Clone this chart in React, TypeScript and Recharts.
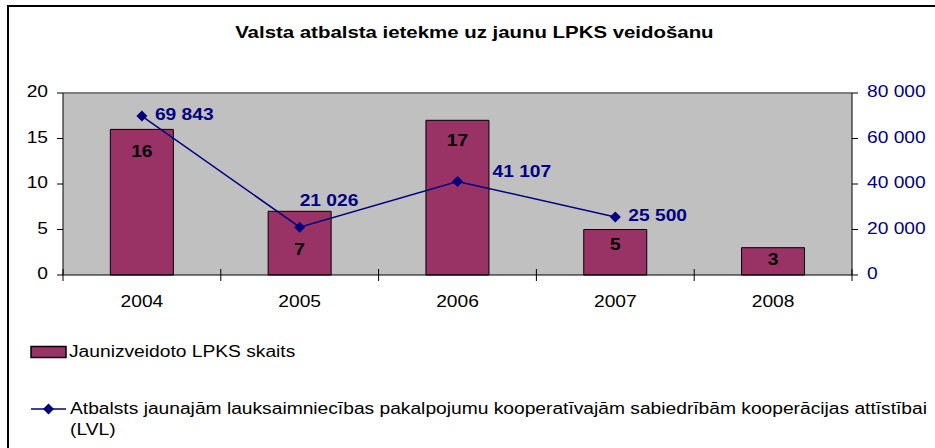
import React from "react";
import {
  ComposedChart,
  Bar,
  Line,
  XAxis,
  YAxis,
  CartesianGrid,
  ReferenceLine,
  LabelList,
} from "recharts";

const years = ["2004", "2005", "2006", "2007", "2008"];
const newCoops = [16, 7, 17, 5, 3];
const support: (number | null)[] = [69843, 21026, 41107, 25500, null];
const countTicks = [0, 5, 10, 15, 20];
const supportTicks = [0, 20000, 40000, 60000, 80000];

const chartTitle = "Valsta atbalsta ietekme uz jaunu LPKS veidošanu";
const barName = "Jaunizveidoto LPKS skaits";
const lineName =
  "Atbalsts jaunajām lauksaimniecības pakalpojumu kooperatīvajām sabiedrībām kooperācijas attīstībai (LVL)";

// label nudges, as placed in the original
const barLabelDy = [23, 39, 21, 16, 13];
const lineLabelDx = [13, 0, 35, 13, 0];
const lineLabelDy = [0, -25, -9, 0, 0];

const data = years.map((year, i) => ({
  year,
  count: newCoops[i],
  support: support[i],
}));

const FONT = "'Liberation Sans', Arial, sans-serif";
const NAVY = "#000080";
const PLUM = "#993366";
const WIDE = 1.2; // the original text is drawn a bit stretched

const fmt = (v: number) => String(v).replace(/\B(?=(\d{3})+(?!\d))/g, " ");

const WideText = ({ x, y, anchor = "middle", children, ...rest }: any) => (
  <text
    transform={`translate(${x},${y}) scale(${WIDE},1)`}
    textAnchor={anchor}
    dominantBaseline="middle"
    fontSize={16}
    fontFamily={FONT}
    {...rest}
  >
    {children}
  </text>
);

const YearTick = (props: any) => {
  const { x, y, payload, width, index } = props;
  const half = width / years.length / 2;
  return (
    <g>
      <line x1={x - half} y1={y - 6} x2={x - half} y2={y + 6} stroke="#000" />
      {index === years.length - 1 && (
        <line x1={x + half} y1={y - 6} x2={x + half} y2={y + 6} stroke="#000" />
      )}
      <WideText x={x} y={y + 28} fill="#000">
        {payload.value}
      </WideText>
    </g>
  );
};

const LeftTick = (props: any) => {
  const { x, y, payload } = props;
  return (
    <WideText x={x} y={y} anchor="end" fill="#000">
      {payload.value}
    </WideText>
  );
};

const RightTick = (props: any) => {
  const { x, y, payload } = props;
  return (
    <WideText x={x} y={y} anchor="start" fill={NAVY}>
      {fmt(payload.value)}
    </WideText>
  );
};

const BarValue = (props: any) => {
  const { x, y, width, value, index } = props;
  return (
    <WideText x={x + width / 2} y={y + barLabelDy[index]} fontWeight="bold" fill="#000">
      {value}
    </WideText>
  );
};

const LineValue = (props: any) => {
  const { x, y, value, index } = props;
  if (value == null) return null;
  return (
    <WideText
      x={x + lineLabelDx[index]}
      y={y + lineLabelDy[index]}
      anchor="start"
      fontWeight="bold"
      fill={NAVY}
    >
      {fmt(value)}
    </WideText>
  );
};

const Diamond = (p: any) =>
  p.value == null || p.cx == null ? (
    <g key={p.index} />
  ) : (
    <path
      key={p.index}
      d={`M${p.cx},${p.cy - 5.5}L${p.cx + 5.5},${p.cy}L${p.cx},${p.cy + 5.5}L${p.cx - 5.5},${p.cy}Z`}
      fill={NAVY}
    />
  );

const wideSpan: React.CSSProperties = {
  display: "inline-block",
  transform: `scaleX(${WIDE})`,
  transformOrigin: "left center",
  whiteSpace: "nowrap",
};

export default function App() {
  return (
    <div
      style={{
        position: "absolute",
        left: 7,
        top: 5,
        width: 940,
        height: 460,
        borderStyle: "solid",
        borderColor: "#000",
        borderWidth: 2,
        boxSizing: "border-box",
        fontFamily: FONT,
        background: "#fff",
        overflow: "hidden",
      }}
    >
      <div
        style={{
          position: "absolute",
          top: 16,
          left: 0,
          width: 930,
          textAlign: "center",
          fontSize: 17,
          lineHeight: "20px",
          fontWeight: "bold",
        }}
      >
        <span style={{ ...wideSpan, transformOrigin: "center center" }}>{chartTitle}</span>
      </div>
      <div style={{ position: "absolute", left: 0, top: 0 }}>
        <ComposedChart
          width={920}
          height={440}
          data={data}
          margin={{ top: 86, right: 7, left: 10, bottom: 142 }}
          barCategoryGap="30%"
          style={{ fontFamily: FONT }}
        >
          <CartesianGrid fill="#C0C0C0" horizontal={false} vertical={false} />
          <ReferenceLine yAxisId="left" y={20} stroke="#808080" strokeWidth={2} />
          <XAxis
            dataKey="year"
            axisLine={{ stroke: "#000" }}
            tickLine={false}
            tickSize={0}
            tickMargin={0}
            tick={<YearTick />}
            height={30}
          />
          <YAxis
            yAxisId="left"
            domain={[0, 20]}
            ticks={countTicks}
            axisLine={{ stroke: "#000" }}
            tickLine={{ stroke: "#000" }}
            tickSize={6}
            tickMargin={9}
            tick={<LeftTick />}
            width={44}
          />
          <YAxis
            yAxisId="right"
            orientation="right"
            domain={[0, 80000]}
            ticks={supportTicks}
            axisLine={{ stroke: "#000" }}
            tickLine={{ stroke: "#000" }}
            tickSize={6}
            tickMargin={9}
            tick={<RightTick />}
            width={70}
          />
          <Bar
            yAxisId="left"
            dataKey="count"
            name={barName}
            fill={PLUM}
            stroke="#000"
            strokeWidth={1}
            isAnimationActive={false}
          >
            <LabelList dataKey="count" content={<BarValue />} />
          </Bar>
          <Line
            yAxisId="right"
            dataKey="support"
            name={lineName}
            stroke={NAVY}
            strokeWidth={1.5}
            dot={Diamond}
            activeDot={false}
            connectNulls={false}
            isAnimationActive={false}
          >
            <LabelList dataKey="support" content={<LineValue />} />
          </Line>
        </ComposedChart>
      </div>
      <div
        style={{
          position: "absolute",
          left: 21,
          top: 334,
          fontSize: 16,
          lineHeight: "21px",
          color: "#000",
        }}
      >
        <div style={{ display: "flex", alignItems: "center", height: 21 }}>
          <svg width={39} height={14} style={{ flex: "none" }}>
            <rect x={1} y={1.5} width={35} height={11} fill={PLUM} stroke="#000" strokeWidth={1.5} />
          </svg>
          <span style={wideSpan}>{barName}</span>
        </div>
        <div style={{ display: "flex", alignItems: "flex-start", marginTop: 36 }}>
          <svg width={40} height={21} style={{ flex: "none" }}>
            <line x1={1} y1={11} x2={36} y2={11} stroke={NAVY} strokeWidth={1.5} />
            <path d="M18.5,5.5L24,11L18.5,16.5L13,11Z" fill={NAVY} />
          </svg>
          <span
            style={{
              display: "inline-block",
              width: 730,
              transform: `scaleX(${WIDE})`,
              transformOrigin: "left top",
            }}
          >
            {lineName}
          </span>
        </div>
      </div>
    </div>
  );
}
